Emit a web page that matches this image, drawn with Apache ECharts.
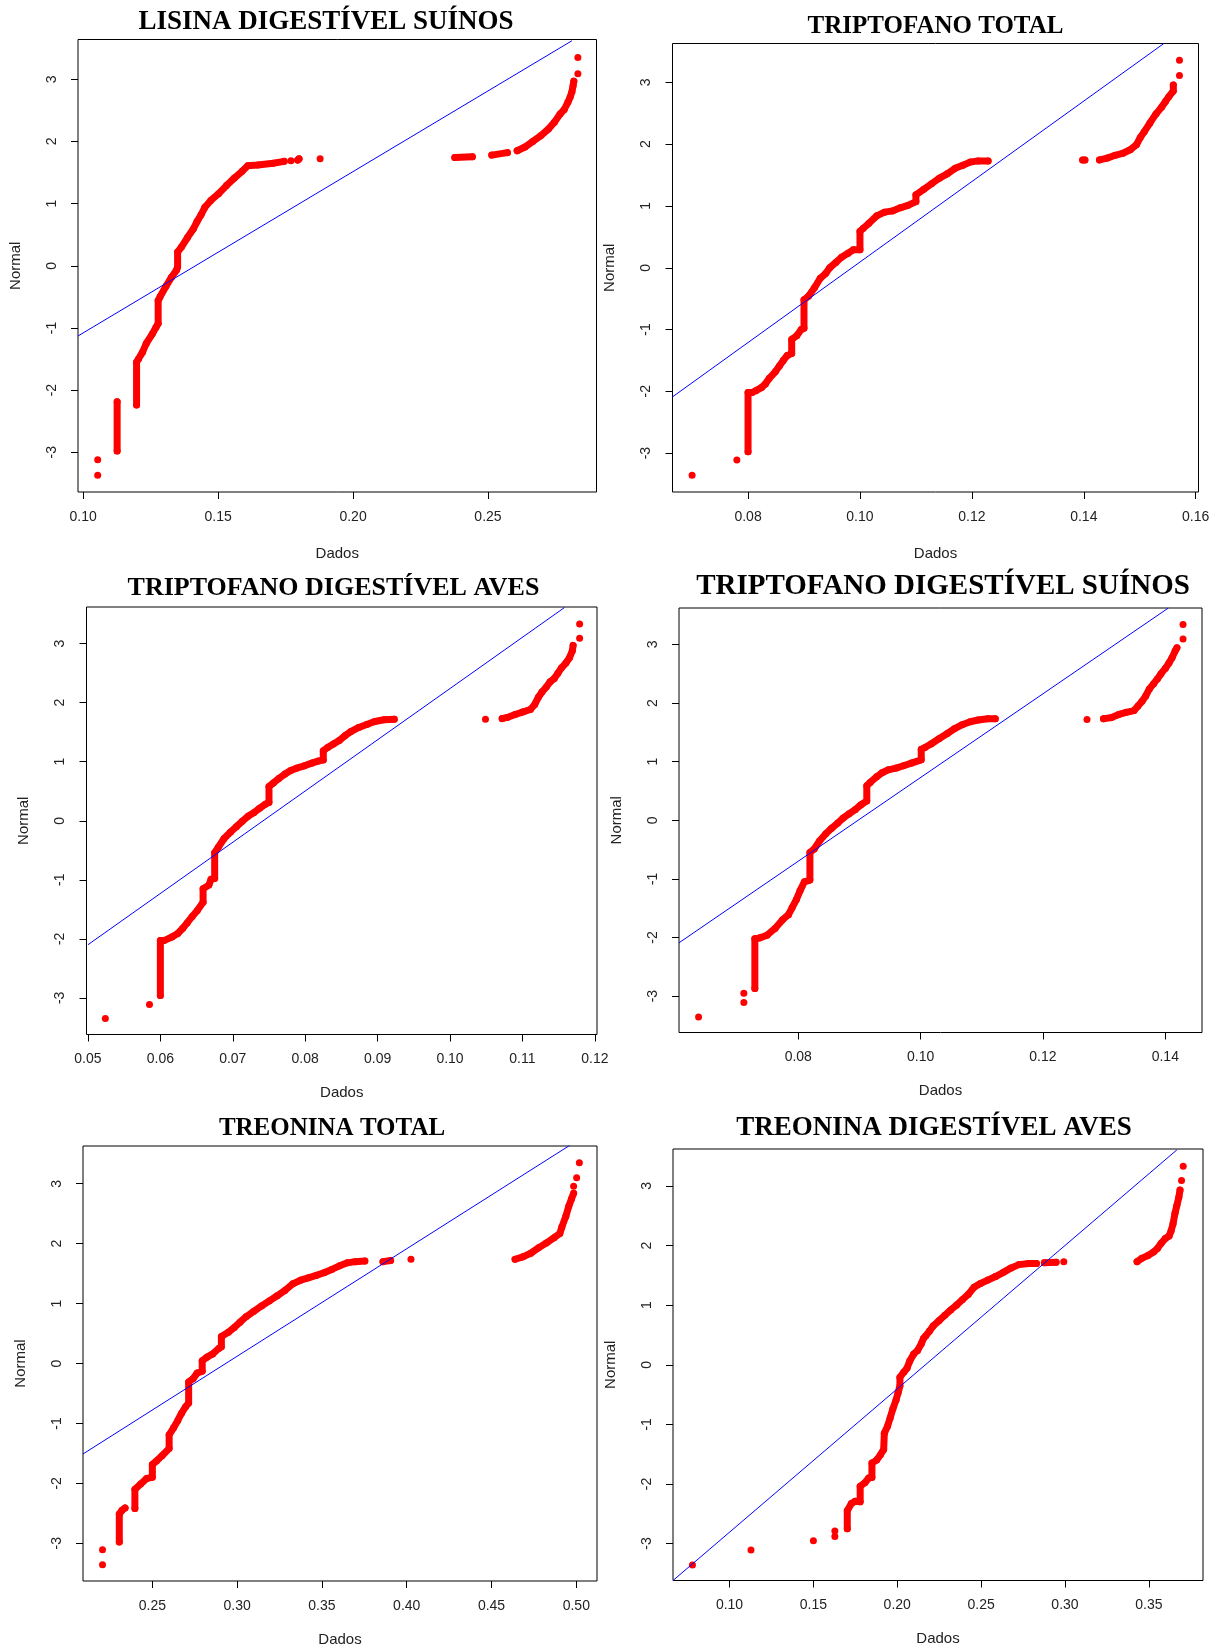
<!DOCTYPE html>
<html>
<head>
<meta charset="utf-8">
<title>Gráficos Q-Q</title>
<script src="https://cdn.jsdelivr.net/npm/echarts@6/dist/echarts.min.js"></script>
<style>
  html, body { margin: 0; padding: 0; background: #fff; }
  #chart { width: 1223px; height: 1652px; }
</style>
</head>
<body>
<div id="chart"></div>
<script>
// Normal Q-Q plots: data value (x) against theoretical normal quantile (y).
// Each curve is a list of runs; points inside a run are joined into a thick band,
// single-point runs stay as isolated dots. Each panel also has its qqline.

const yTicks = [-3, -2, -1, 0, 1, 2, 3];

// ---- LISINA DIGESTÍVEL SUÍNOS ----
const lisinaXTicks = [0.10, 0.15, 0.20, 0.25];
const lisinaXRange = [0.0981, 0.2902];
const lisinaYRange = [-3.64, 3.64];
const lisinaRuns = [
  [[0.1054, -3.37]],
  [[0.1054, -3.12]],
  [[0.1126, -2.98], [0.1126, -2.19]],
  [[0.1198, -2.24], [0.1198, -1.55], [0.1205, -1.50], [0.1220, -1.39], [0.1234, -1.25], [0.1256, -1.10],
   [0.1270, -0.99], [0.1278, -0.93], [0.1278, -0.56], [0.1285, -0.50], [0.1307, -0.33], [0.1328, -0.18],
   [0.1346, -0.07], [0.1350, -0.02], [0.1350, 0.22], [0.1364, 0.30], [0.1386, 0.45], [0.1408, 0.59],
   [0.1422, 0.71], [0.1437, 0.82], [0.1451, 0.94], [0.1473, 1.05], [0.1502, 1.16], [0.1531, 1.29],
   [0.1560, 1.41], [0.1589, 1.52], [0.1610, 1.61], [0.1647, 1.62], [0.1704, 1.65], [0.1745, 1.68]],
  [[0.1770, 1.69]],
  [[0.1795, 1.70], [0.1800, 1.72]],
  [[0.1878, 1.72]],
  [[0.2377, 1.74], [0.2442, 1.755]],
  [[0.2514, 1.78], [0.2572, 1.82]],
  [[0.2608, 1.85], [0.2637, 1.91], [0.2666, 2.00], [0.2695, 2.09], [0.2724, 2.20], [0.2746, 2.31],
   [0.2767, 2.44], [0.2782, 2.51], [0.2796, 2.63], [0.2804, 2.71], [0.2811, 2.80], [0.2815, 2.89], [0.2818, 2.97]],
  [[0.2833, 3.09]],
  [[0.2833, 3.35]]
];
const lisinaLine = [[0.0981, -1.13], [0.2811, 3.62]];

// ---- TRIPTOFANO TOTAL ----
const tripTotalXTicks = [0.08, 0.10, 0.12, 0.14, 0.16];
const tripTotalXRange = [0.0665, 0.1605];
const tripTotalYRange = [-3.63, 3.63];
const tripTotalRuns = [
  [[0.0700, -3.36]],
  [[0.0780, -3.11]],
  [[0.0800, -2.98], [0.0800, -2.02], [0.0807, -2.02], [0.0814, -1.99], [0.0824, -1.94], [0.0831, -1.88],
   [0.0838, -1.79], [0.0849, -1.68], [0.0856, -1.59], [0.0863, -1.50], [0.0870, -1.42], [0.0878, -1.39],
   [0.0878, -1.16], [0.0887, -1.10], [0.0895, -1.00], [0.0900, -0.98], [0.0900, -0.52], [0.0908, -0.46],
   [0.0919, -0.32], [0.0929, -0.17], [0.0939, -0.09], [0.0946, 0.00], [0.0957, 0.087], [0.0967, 0.17],
   [0.0978, 0.23], [0.0988, 0.29], [0.1000, 0.29], [0.1000, 0.59], [0.1006, 0.64], [0.1016, 0.72],
   [0.1030, 0.84], [0.1044, 0.90], [0.1058, 0.92], [0.1072, 0.97], [0.1086, 1.01], [0.1100, 1.07],
   [0.1100, 1.18], [0.1114, 1.27], [0.1128, 1.36], [0.1142, 1.45], [0.1156, 1.52], [0.1170, 1.61],
   [0.1184, 1.66], [0.1197, 1.71], [0.1211, 1.73], [0.1229, 1.73]],
  [[0.1398, 1.745], [0.1402, 1.745]],
  [[0.1428, 1.745], [0.1442, 1.775], [0.1456, 1.82], [0.1469, 1.85], [0.1483, 1.91], [0.1494, 1.99],
   [0.1501, 2.11], [0.1508, 2.20], [0.1518, 2.34], [0.1529, 2.49], [0.1539, 2.60], [0.1546, 2.69],
   [0.1552, 2.77], [0.1560, 2.86], [0.1560, 2.96]],
  [[0.1571, 3.11]],
  [[0.1571, 3.36]]
];
const tripTotalLine = [[0.0665, -2.09], [0.1543, 3.63]];

// ---- TRIPTOFANO DIGESTÍVEL AVES ----
const tripAvesXTicks = [0.05, 0.06, 0.07, 0.08, 0.09, 0.10, 0.11, 0.12];
const tripAvesXRange = [0.0498, 0.1203];
const tripAvesYRange = [-3.62, 3.62];
const tripAvesRuns = [
  [[0.0524, -3.35]],
  [[0.0585, -3.11]],
  [[0.0600, -2.96], [0.0600, -2.03], [0.0605, -2.03], [0.0616, -1.97], [0.0624, -1.91], [0.0631, -1.82],
   [0.0637, -1.73], [0.0644, -1.62], [0.0651, -1.52], [0.0659, -1.38], [0.0659, -1.15], [0.0667, -1.09],
   [0.0670, -0.99], [0.0675, -0.98], [0.0675, -0.54], [0.0680, -0.45], [0.0688, -0.30], [0.0697, -0.19],
   [0.0705, -0.10], [0.0713, -0.01], [0.0721, 0.076], [0.0729, 0.134], [0.0737, 0.21], [0.0745, 0.28],
   [0.0750, 0.31], [0.0750, 0.58], [0.0756, 0.64], [0.0764, 0.72], [0.0772, 0.79], [0.0780, 0.85],
   [0.0788, 0.89], [0.0799, 0.93], [0.0810, 0.98], [0.0818, 1.01], [0.0825, 1.03], [0.0825, 1.185],
   [0.0831, 1.24], [0.0839, 1.30], [0.0847, 1.36], [0.0855, 1.44], [0.0863, 1.51], [0.0874, 1.58],
   [0.0885, 1.63], [0.0896, 1.68], [0.0909, 1.71], [0.0923, 1.72]],
  [[0.1049, 1.72]],
  [[0.1072, 1.73], [0.1079, 1.75], [0.1090, 1.80], [0.1100, 1.84], [0.1111, 1.885], [0.1117, 1.97],
   [0.1122, 2.09], [0.1127, 2.18], [0.1133, 2.265], [0.1138, 2.35], [0.1144, 2.41], [0.1149, 2.50],
   [0.1154, 2.59], [0.1160, 2.67], [0.1165, 2.76], [0.1169, 2.88], [0.1170, 2.97]],
  [[0.1179, 3.09]],
  [[0.1179, 3.33]]
];
const tripAvesLine = [[0.0500, -2.10], [0.1158, 3.61]];

// ---- TRIPTOFANO DIGESTÍVEL SUÍNOS ----
const tripSuinosXTicks = [0.08, 0.10, 0.12, 0.14];
const tripSuinosXRange = [0.0605, 0.1460];
const tripSuinosYRange = [-3.62, 3.62];
const tripSuinosRuns = [
  [[0.0637, -3.355]],
  [[0.0711, -3.11]],
  [[0.0711, -2.95]],
  [[0.0729, -2.87], [0.0729, -2.02], [0.0736, -2.01], [0.0749, -1.96], [0.0762, -1.845], [0.0774, -1.70],
   [0.0784, -1.61], [0.0790, -1.49], [0.0797, -1.35], [0.0803, -1.20], [0.0810, -1.05], [0.0819, -1.02],
   [0.0819, -0.55], [0.0826, -0.49], [0.0835, -0.35], [0.0845, -0.23], [0.0854, -0.14], [0.0864, -0.053],
   [0.0873, 0.035], [0.0883, 0.11], [0.0893, 0.18], [0.0902, 0.26], [0.0912, 0.33], [0.0912, 0.59],
   [0.0918, 0.65], [0.0928, 0.74], [0.0937, 0.81], [0.0947, 0.86], [0.0960, 0.89], [0.0972, 0.93],
   [0.0985, 0.975], [0.1001, 1.03], [0.1001, 1.21], [0.1007, 1.24], [0.1017, 1.30], [0.1030, 1.39],
   [0.1043, 1.475], [0.1055, 1.56], [0.1068, 1.63], [0.1081, 1.68], [0.1094, 1.71], [0.1110, 1.73], [0.1122, 1.73]],
  [[0.1272, 1.72]],
  [[0.1299, 1.73], [0.1311, 1.75], [0.1323, 1.80], [0.1336, 1.84], [0.1349, 1.87], [0.1355, 1.945],
   [0.1362, 2.03], [0.1368, 2.12], [0.1374, 2.24], [0.1381, 2.33], [0.1387, 2.41], [0.1393, 2.50],
   [0.1400, 2.59], [0.1406, 2.68], [0.1411, 2.77], [0.1416, 2.885], [0.1419, 2.94]],
  [[0.1429, 3.09]],
  [[0.1429, 3.34]]
];
const tripSuinosLine = [[0.0605, -2.09], [0.1405, 3.62]];

// ---- TREONINA TOTAL ----
const treoTotalXTicks = [0.25, 0.30, 0.35, 0.40, 0.45, 0.50];
const treoTotalXRange = [0.2091, 0.5122];
const treoTotalYRange = [-3.63, 3.63];
const treoTotalRuns = [
  [[0.2206, -3.36]],
  [[0.2206, -3.11]],
  [[0.2305, -2.98], [0.2305, -2.51], [0.2321, -2.45], [0.2339, -2.41]],
  [[0.2397, -2.42], [0.2397, -2.10], [0.2431, -2.01], [0.2466, -1.92], [0.2500, -1.90], [0.2500, -1.685],
   [0.2523, -1.63], [0.2557, -1.54], [0.2599, -1.42], [0.2599, -1.19], [0.2626, -1.07], [0.2650, -0.95],
   [0.2672, -0.83], [0.2696, -0.72], [0.2714, -0.66], [0.2714, -0.31], [0.2741, -0.25], [0.2764, -0.16],
   [0.2794, -0.13], [0.2794, 0.047], [0.2822, 0.106], [0.2856, 0.16], [0.2891, 0.25], [0.2907, 0.28],
   [0.2907, 0.45], [0.2948, 0.52], [0.2983, 0.60], [0.3017, 0.69], [0.3052, 0.78], [0.3098, 0.87],
   [0.3144, 0.96], [0.3190, 1.045], [0.3236, 1.13], [0.3282, 1.22], [0.3328, 1.33], [0.3374, 1.39],
   [0.3420, 1.43], [0.3466, 1.47], [0.3512, 1.515], [0.3558, 1.57], [0.3604, 1.63], [0.3650, 1.68],
   [0.3696, 1.70], [0.3753, 1.71]],
  [[0.3860, 1.70], [0.3905, 1.72]],
  [[0.4025, 1.74]],
  [[0.4639, 1.74], [0.4685, 1.78], [0.4731, 1.84], [0.4777, 1.93], [0.4823, 2.01], [0.4869, 2.10],
   [0.4903, 2.17], [0.4915, 2.28], [0.4938, 2.455], [0.4956, 2.63], [0.4972, 2.75], [0.4984, 2.84]],
  [[0.4984, 2.96]],
  [[0.5002, 3.10]],
  [[0.5018, 3.35]]
];
const treoTotalLine = [[0.2091, -1.51], [0.4961, 3.64]];

// ---- TREONINA DIGESTÍVEL AVES ----
const treoAvesXTicks = [0.10, 0.15, 0.20, 0.25, 0.30, 0.35];
const treoAvesXRange = [0.0663, 0.3823];
const treoAvesYRange = [-3.62, 3.62];
const treoAvesRuns = [
  [[0.0779, -3.36]],
  [[0.1128, -3.11]],
  [[0.1500, -2.955]],
  [[0.1628, -2.88]],
  [[0.1628, -2.79]],
  [[0.1702, -2.75], [0.1702, -2.45], [0.1726, -2.33], [0.1749, -2.29], [0.1779, -2.30], [0.1779, -2.04],
   [0.1807, -1.98], [0.1830, -1.90], [0.1849, -1.89], [0.1849, -1.65], [0.1877, -1.60], [0.1900, -1.51],
   [0.1919, -1.42], [0.1923, -1.15], [0.1942, -1.03], [0.1958, -0.89], [0.1974, -0.74], [0.1993, -0.59],
   [0.2005, -0.47], [0.2016, -0.355], [0.2016, -0.21], [0.2040, -0.12], [0.2058, -0.06], [0.2074, 0.06],
   [0.2098, 0.18], [0.2121, 0.24], [0.2144, 0.355], [0.2156, 0.44], [0.2170, 0.485], [0.2191, 0.56],
   [0.2214, 0.65], [0.2249, 0.74], [0.2284, 0.83], [0.2319, 0.92], [0.2353, 1.00], [0.2388, 1.09],
   [0.2423, 1.18], [0.2458, 1.30], [0.2493, 1.36], [0.2540, 1.42], [0.2586, 1.48], [0.2633, 1.55],
   [0.2679, 1.625], [0.2726, 1.68], [0.2784, 1.70], [0.2830, 1.70]],
  [[0.2877, 1.71], [0.2947, 1.72]],
  [[0.2993, 1.73]],
  [[0.3430, 1.73], [0.3458, 1.785], [0.3493, 1.83], [0.3528, 1.89], [0.3551, 1.95], [0.3574, 2.04],
   [0.3598, 2.12], [0.3621, 2.16], [0.3633, 2.25], [0.3644, 2.36], [0.3656, 2.54], [0.3667, 2.67],
   [0.3679, 2.81], [0.3686, 2.93]],
  [[0.3695, 3.09]],
  [[0.3705, 3.33]]
];
const treoAvesLine = [[0.0663, -3.62], [0.3667, 3.605]];

const panels = [
  { title: 'LISINA DIGESTÍVEL SUÍNOS', xTicks: lisinaXTicks, xRange: lisinaXRange, yRange: lisinaYRange, runs: lisinaRuns, line: lisinaLine },
  { title: 'TRIPTOFANO TOTAL', xTicks: tripTotalXTicks, xRange: tripTotalXRange, yRange: tripTotalYRange, runs: tripTotalRuns, line: tripTotalLine },
  { title: 'TRIPTOFANO DIGESTÍVEL AVES', xTicks: tripAvesXTicks, xRange: tripAvesXRange, yRange: tripAvesYRange, runs: tripAvesRuns, line: tripAvesLine },
  { title: 'TRIPTOFANO DIGESTÍVEL SUÍNOS', xTicks: tripSuinosXTicks, xRange: tripSuinosXRange, yRange: tripSuinosYRange, runs: tripSuinosRuns, line: tripSuinosLine },
  { title: 'TREONINA TOTAL', xTicks: treoTotalXTicks, xRange: treoTotalXRange, yRange: treoTotalYRange, runs: treoTotalRuns, line: treoTotalLine },
  { title: 'TREONINA DIGESTÍVEL AVES', xTicks: treoAvesXTicks, xRange: treoAvesXRange, yRange: treoAvesYRange, runs: treoAvesRuns, line: treoAvesLine }
];

// Panel boxes and title placement (pixels)
const layout = [
  { left: 78,  top: 39.5, width: 518.5, height: 452.5, tx: 326, ty: 22,   fs: 27, gapX: 54 },
  { left: 672.5, top: 43.5, width: 526, height: 448.5, tx: 935.5, ty: 27, fs: 25, gapX: 54 },
  { left: 86.5, top: 607, width: 510.5, height: 427.5, tx: 333.5, ty: 588, fs: 26, gapX: 51 },
  { left: 679, top: 608, width: 523, height: 424.5, tx: 943, ty: 586.5, fs: 29, gapX: 51 },
  { left: 83,  top: 1146, width: 514, height: 435, tx: 332, ty: 1128.5, fs: 25, gapX: 51 },
  { left: 673, top: 1149, width: 530, height: 431.5, tx: 934, ty: 1128.5, fs: 27, gapX: 51 }
];

const SANS = '"Liberation Sans", Arial, sans-serif';
const SERIF = '"Liberation Serif", "Times New Roman", serif';
const RED = '#ff0000';
const BLUE = '#0000ff';

const grid = [], xAxis = [], yAxis = [], series = [], graphic = [];

panels.forEach((p, i) => {
  const L = layout[i];
  grid.push({
    left: L.left, top: L.top, width: L.width, height: L.height,
    show: true, borderColor: '#000', borderWidth: 1, backgroundColor: 'transparent'
  });
  xAxis.push({
    gridIndex: i, type: 'value', min: p.xRange[0], max: p.xRange[1],
    axisLine: { show: false, onZero: false },
    axisTick: { show: true, customValues: p.xTicks, length: 7, lineStyle: { color: '#000', width: 1 } },
    axisLabel: { customValues: p.xTicks, formatter: v => v.toFixed(2), margin: 18,
                 fontFamily: SANS, fontSize: 14, color: '#222' },
    splitLine: { show: false },
    name: 'Dados', nameLocation: 'middle', nameGap: L.gapX,
    nameTextStyle: { fontFamily: SANS, fontSize: 15, color: '#222' }
  });
  yAxis.push({
    gridIndex: i, type: 'value', min: p.yRange[0], max: p.yRange[1],
    axisLine: { show: false, onZero: false },
    axisTick: { show: true, customValues: yTicks, length: 7, lineStyle: { color: '#000', width: 1 } },
    axisLabel: { customValues: yTicks, formatter: v => String(v), rotate: 90, margin: 19,
                 fontFamily: SANS, fontSize: 14, color: '#222' },
    splitLine: { show: false },
    name: 'Normal', nameLocation: 'middle', nameGap: 55,
    nameTextStyle: { fontFamily: SANS, fontSize: 15, color: '#222' }
  });

  // Connected runs of overlapping points
  p.runs.forEach(run => {
    if (run.length > 1) {
      series.push({
        type: 'line', xAxisIndex: i, yAxisIndex: i, data: run,
        symbol: 'none', silent: true, z: 2,
        lineStyle: { color: RED, width: 7, cap: 'round', join: 'round', opacity: 1 }
      });
    }
  });
  // Every sample point
  series.push({
    type: 'scatter', xAxisIndex: i, yAxisIndex: i, data: p.runs.flat(),
    symbol: 'circle', symbolSize: 7, silent: true, z: 2,
    itemStyle: { color: RED, opacity: 1 }
  });
  // Reference qqline
  series.push({
    type: 'line', xAxisIndex: i, yAxisIndex: i, data: p.line,
    symbol: 'none', silent: true, z: 5, clip: true,
    lineStyle: { color: BLUE, width: 1 }
  });

  graphic.push({
    type: 'text', x: L.tx, y: L.ty, z: 10,
    style: {
      text: p.title, fill: '#000', textAlign: 'center', textVerticalAlign: 'middle',
      fontFamily: SERIF, fontWeight: 'bold', fontSize: L.fs
    }
  });
});

const chart = echarts.init(document.getElementById('chart'), null, { renderer: 'canvas' });
chart.setOption({
  animation: false,
  backgroundColor: '#fff',
  grid, xAxis, yAxis, series, graphic
});
</script>
</body>
</html>
